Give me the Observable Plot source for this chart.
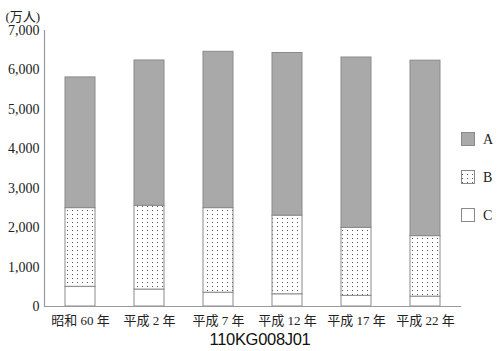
<!DOCTYPE html>
<html>
<head>
<meta charset="utf-8">
<script src="https://cdn.jsdelivr.net/npm/d3@7"></script>
<script src="https://cdn.jsdelivr.net/npm/@observablehq/plot@0.6"></script>
<style>
  body { margin: 0; background: #fff; }
  #wrap { position: relative; width: 498px; height: 351px; overflow: hidden; }
  #caption { position: absolute; left: 0; top: 330px; width: 498px; padding-left: 22px; box-sizing: border-box;
    text-align: center; font-family: "Liberation Sans", Arial, sans-serif; font-size: 16.5px; color: #111; letter-spacing: -0.3px; }
  #overlay { position: absolute; left: 0; top: 0; pointer-events: none; }
</style>
</head>
<body>
<div id="wrap">
  <div id="chart"></div>
  <svg id="overlay" width="498" height="351"></svg>
  <div id="caption"></div>
</div>
<script>
const categories = ["昭和 60 年", "平成 2 年", "平成 7 年", "平成 12 年", "平成 17 年", "平成 22 年"];
const seriesNames = ["A", "B", "C"];
const valuesA = [3315, 3685, 3965, 4125, 4320, 4450];
const valuesB = [1995, 2125, 2145, 1995, 1725, 1535];
const valuesC = [500, 430, 350, 310, 270, 250];
const yTicks = [0, 1000, 2000, 3000, 4000, 5000, 6000, 7000];
const unitLabel = "(万人)";
const captionText = "110KG008J01";

const fills = {A: "#a9a9a9", B: "url(#dots)", C: "#ffffff"};

// pattern definition
const overlay = d3.select("#overlay");
const defs = overlay.append("defs");
const pat = defs.append("pattern").attr("id", "dots").attr("patternUnits", "userSpaceOnUse")
  .attr("width", 5).attr("height", 4);
pat.append("rect").attr("width", 5).attr("height", 4).attr("fill", "#fff");
pat.append("rect").attr("x", 2).attr("y", 2).attr("width", 1).attr("height", 1).attr("fill", "#555");

// long data: bottom to top C, B, A
const data = [];
const bySeries = {A: valuesA, B: valuesB, C: valuesC};
for (const s of ["C", "B", "A"]) {
  categories.forEach((c, i) => data.push({cat: c, series: s, value: bySeries[s][i]}));
}

const font = '"Liberation Serif", "Noto Sans CJK JP", serif';

const chart = Plot.plot({
  width: 498,
  height: 330,
  marginLeft: 44,
  marginRight: 37,
  marginTop: 30,
  marginBottom: 24,
  style: {fontFamily: font, fontSize: "13px", color: "#222", background: "transparent"},
  x: {domain: categories, paddingInner: 0.569, paddingOuter: 0.28, label: null},
  y: {domain: [0, 7000], label: null},
  color: {domain: seriesNames, range: seriesNames.map(s => fills[s])},
  marks: [
    Plot.barY(data, {x: "cat", y: "value", fill: "series", stroke: "#8a8a8a", strokeWidth: 1, order: null}),
    Plot.ruleY([0], {stroke: "#999", strokeWidth: 1.2}),
    Plot.frame({anchor: "left", stroke: "#999", strokeWidth: 1.2}),
    Plot.axisX({tickSize: 0, tickPadding: 9, fontSize: 13, label: null}),
    Plot.axisY({ticks: yTicks, tickSize: 0, tickPadding: 5, tickFormat: d3.format(","), fontSize: 14, label: null}),
    Plot.text([unitLabel], {frameAnchor: "top-left", dx: -39, dy: -19, textAnchor: "start", fontSize: 13})
  ]
});
document.getElementById("chart").appendChild(chart);
document.getElementById("caption").textContent = captionText;

// legend
const legendY = {A: 139, B: 177, C: 215};
seriesNames.forEach(s => {
  const g = overlay.append("g");
  g.append("rect").attr("x", 461.5).attr("y", legendY[s] - 6.5).attr("width", 13).attr("height", 13)
    .attr("fill", fills[s]).attr("stroke", "#8a8a8a").attr("stroke-width", 1);
  g.append("text").attr("x", 483).attr("y", legendY[s]).attr("dy", "0.35em")
    .attr("font-family", font).attr("font-size", 14).attr("fill", "#222").text(s);
});
</script>
</body>
</html>
